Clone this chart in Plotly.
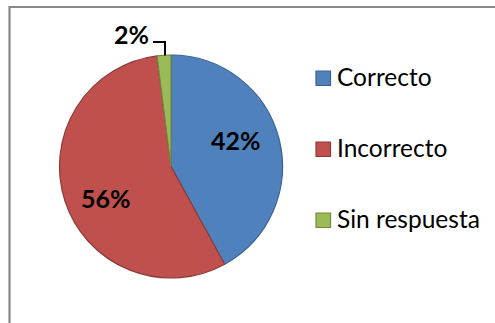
import plotly.graph_objects as go

categories = ["Correcto", "Incorrecto", "Sin respuesta"]
values = [42, 56, 2]
fill_colors = ["#4F81BD", "#C0504D", "#9BBB59"]
line_colors = ["#3A6293", "#8E3B38", "#71893F"]

W, H = 495, 323
cx, cy, r = 171.0, 166.5, 111.5

def px(x):
    return x / W

def py(y):
    return 1 - y / H

total = sum(values)
pcts = [f"{round(v * 100 / total)}%" for v in values]

fig = go.Figure(go.Pie(
    labels=categories,
    values=values,
    sort=False,
    direction="clockwise",
    rotation=0,
    textinfo="none",
    marker=dict(colors=fill_colors, line=dict(color=line_colors, width=1.2)),
    domain=dict(x=[px(cx - r), px(cx + r)], y=[py(cy + r), py(cy - r)]),
    showlegend=False,
))

font_main = "Lato, 'Open Sans', sans-serif"

# data labels
label_pos = [(236, 140), (106, 198), (131, 34)]
annotations = []
for (x, y), t in zip(label_pos, pcts):
    annotations.append(dict(x=px(x), y=py(y), xref="paper", yref="paper",
                            text=f"<b>{t}</b>", showarrow=False,
                            xanchor="center", yanchor="middle",
                            font=dict(family=font_main, size=25, color="#000000")))

shapes = []
# frame
shapes.append(dict(type="rect", xref="paper", yref="paper",
                   x0=px(9.5), x1=px(520), y0=py(7), y1=py(340),
                   line=dict(color="#888888", width=2.2), fillcolor="rgba(0,0,0,0)"))
# leader line for small slice
shapes.append(dict(type="path", xref="paper", yref="paper",
                   path=f"M {px(153)} {py(42)} L {px(165)} {py(42)} L {px(165)} {py(55.5)}",
                   line=dict(color="#000000", width=2)))

# manual legend
leg_y = [78, 149, 220]
for name, fc, lc, y in zip(categories, fill_colors, line_colors, leg_y):
    shapes.append(dict(type="rect", xref="paper", yref="paper",
                       x0=px(316), x1=px(330.5), y0=py(y + 7.5), y1=py(y - 7),
                       fillcolor=fc, line=dict(color=lc, width=1.2)))
    annotations.append(dict(x=px(335), y=py(y - 1.5), xref="paper", yref="paper",
                            text=name, showarrow=False,
                            xanchor="left", yanchor="middle",
                            font=dict(family=font_main, size=24.5, color="#000000")))

fig.update_layout(
    width=W, height=H,
    margin=dict(l=0, r=0, t=0, b=0),
    paper_bgcolor="#FFFFFF",
    plot_bgcolor="#FFFFFF",
    shapes=shapes,
    annotations=annotations,
)

fig.write_html("out.html")
